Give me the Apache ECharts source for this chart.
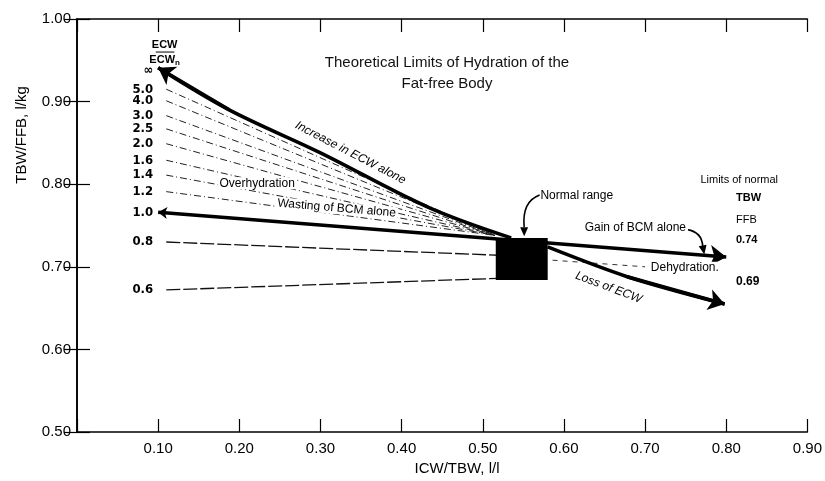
<!DOCTYPE html>
<html><head><meta charset="utf-8">
<script src="https://cdn.jsdelivr.net/npm/echarts@6/dist/echarts.min.js"></script>
<style>html,body{margin:0;padding:0;background:#fff}#c{width:825px;height:481px}</style>
</head><body><div id="c"></div>
<script>
// ---- data ----
const ratioLabels = ['∞','5.0','4.0','3.0','2.5','2.0','1.6','1.4','1.2','1.0','0.8','0.6'];
const ratioLabelY = [0.937,0.915,0.901,0.883,0.867,0.849,0.829,0.811,0.791,0.765,0.730,0.672];

const thinNames  = ['5.0','4.0','3.0','2.5','2.0','1.6','1.4','1.2'];
const thinStartX = [0.11,0.11,0.11,0.11,0.11,0.11,0.11,0.11];
const thinStartY = [0.915,0.901,0.883,0.867,0.849,0.829,0.811,0.791];
const thinEndX   = [0.515,0.515,0.515,0.515,0.515,0.515,0.515,0.515];
const thinEndY   = [0.738,0.738,0.738,0.738,0.738,0.738,0.738,0.738];

const lowNames  = ['0.8','0.6'];
const lowStartX = [0.11,0.11];
const lowStartY = [0.730,0.672];
const lowEndX   = [0.519,0.519];
const lowEndY   = [0.714,0.686];

const ecwX = [0.10,0.1875,0.30,0.433,0.535];
const ecwY = [0.941,0.890,0.838,0.772,0.735];

const lossX = [0.58,0.678,0.798];
const lossY = [0.724,0.688,0.655];

const bcmX = [0.10,0.80];
const bcmY = [0.766,0.712];

const normalX = [0.516,0.580];
const normalY = [0.684,0.735];

const dehydX = [0.586,0.70];
const dehydY = [0.708,0.700];

// ---- chart ----
const FONT = "'Liberation Sans', Arial, sans-serif";
const chart = echarts.init(document.getElementById('c'));

const seg = (xs, ys) => xs.map((x, i) => [x, ys[i]]);
const segs = (x1, y1, x2, y2) => x1.map((_, i) => ({coords: [[x1[i], y1[i]], [x2[i], y2[i]]]}));

const axisCommon = {
  type: 'value',
  axisLine: {show: true, lineStyle: {color: '#000', width: 1.6}},
  axisTick: {show: true, inside: true, length: 13, lineStyle: {color: '#000', width: 1.2}},
  splitLine: {show: false}
};

const option = {
  animation: false,
  backgroundColor: '#fff',
  title: {
    text: 'Theoretical Limits of Hydration of the\nFat-free Body',
    left: 442, top: 47, textAlign: 'center',
    textStyle: {fontSize: 15, fontWeight: 'normal', color: '#111', lineHeight: 21, fontFamily: FONT}
  },
  grid: {left: 77, top: 19, width: 734, height: 413},
  xAxis: [
    Object.assign({}, axisCommon, {min: 0, max: 0.9, interval: 0.1, position: 'bottom',
      axisLabel: {formatter: v => v < 0.05 ? '' : v.toFixed(2), fontSize: 15, color: '#000', margin: 9, fontFamily: FONT}}),
    Object.assign({}, axisCommon, {min: 0, max: 0.9, interval: 0.1, position: 'top', axisLabel: {show: false}})
  ],
  yAxis: [
    Object.assign({}, axisCommon, {min: 0.5, max: 1.0, interval: 0.1, position: 'left',
      axisLabel: {formatter: v => v.toFixed(2), fontSize: 15, color: '#000', margin: 6, fontFamily: FONT}}),
    Object.assign({}, axisCommon, {min: 0.5, max: 1.0, interval: 0.1, position: 'right', axisLabel: {show: false}})
  ],
  series: [
    {type: 'lines', coordinateSystem: 'cartesian2d', polyline: false, silent: true,
     data: segs(thinStartX, thinStartY, thinEndX, thinEndY),
     lineStyle: {color: '#222', width: 1, type: [7, 3, 1, 3], opacity: 1}, symbol: 'none'},
    {type: 'lines', coordinateSystem: 'cartesian2d', silent: true,
     data: segs(lowStartX, lowStartY, lowEndX, lowEndY),
     lineStyle: {color: '#111', width: 1.3, type: [14, 3], opacity: 1}, symbol: 'none'},
    {type: 'lines', coordinateSystem: 'cartesian2d', silent: true,
     data: [{coords: seg(dehydX, dehydY)}],
     lineStyle: {color: '#333', width: 1, type: [5, 5], opacity: 1}, symbol: 'none'},
    {type: 'line', data: seg(ecwX, ecwY), symbol: 'none', silent: true, smooth: 0.35,
     lineStyle: {color: '#000', width: 3.5}},
    {type: 'lines', coordinateSystem: 'cartesian2d', silent: true,
     data: [{coords: [[ecwX[1], ecwY[1]], [ecwX[0], ecwY[0]]]}],
     lineStyle: {color: '#000', width: 3.5, opacity: 1}, symbol: ['none', 'arrow'], symbolSize: [9, 16]},
    {type: 'line', data: seg(lossX, lossY), symbol: 'none', silent: true, smooth: 0.3,
     lineStyle: {color: '#000', width: 3.5}},
    {type: 'lines', coordinateSystem: 'cartesian2d', silent: true,
     data: [{coords: [[lossX[1], lossY[1]], [lossX[2], lossY[2]]]}],
     lineStyle: {color: '#000', width: 3.5, opacity: 1}, symbol: ['none', 'arrow'], symbolSize: [9, 16]},
    {type: 'lines', coordinateSystem: 'cartesian2d', silent: true,
     data: [{coords: seg(bcmX, bcmY)}],
     lineStyle: {color: '#000', width: 3.5, opacity: 1}, symbol: ['arrow', 'arrow'], symbolSize: [9, 16]},
    {type: 'custom', silent: true,
     data: [[normalX[0], normalY[1], normalX[1], normalY[0]]],
     renderItem: (params, api) => {
       const p1 = api.coord([api.value(0), api.value(1)]);
       const p2 = api.coord([api.value(2), api.value(3)]);
       return {type: 'rect', shape: {x: p1[0], y: p1[1], width: p2[0] - p1[0], height: p2[1] - p1[1]}, style: {fill: '#000'}};
     }}
  ]
};
chart.setOption(option);

// ---- annotations (positioned in data space) ----
const P = (x, y) => chart.convertToPixel({xAxisIndex: 0, yAxisIndex: 0}, [x, y]);
const g = [];
function txt(text, x, y, opts) {
  const p = P(x, y);
  const o = opts || {};
  g.push({type: 'text', x: p[0], y: p[1], rotation: o.rot || 0, z: 100,
    style: {text: text, fontSize: o.size || 12, fontFamily: o.family || FONT, fontStyle: o.italic ? 'italic' : 'normal',
      fontWeight: o.bold ? 'bold' : 'normal', fill: '#000', align: o.align || 'center', verticalAlign: 'middle',
      backgroundColor: o.bg || null, padding: o.bg ? [0, 2] : 0}});
}
// ratio labels
ratioLabels.forEach((t, i) => txt(t, 0.0938, ratioLabelY[i], {align: 'right', size: 13, bold: true,
  family: "'Liberation Sans Narrow', 'DejaVu Sans Condensed', sans-serif"}));
// header ECW / ECWn
txt('ECW', 0.108, 0.969, {size: 11, bold: true});
{
  const a = P(0.097, 0.960), b = P(0.120, 0.960);
  g.push({type: 'line', shape: {x1: a[0], y1: a[1], x2: b[0], y2: b[1]}, style: {stroke: '#000', lineWidth: 1}});
}
{
  const p = P(0.108, 0.950);
  g.push({type: 'text', x: p[0], y: p[1], style: {text: '{a|ECW}{b|n}', align: 'center', verticalAlign: 'middle',
    rich: {a: {fontSize: 11, fontWeight: 'bold', fontFamily: FONT, fill: '#000'},
           b: {fontSize: 8, fontWeight: 'bold', fontFamily: FONT, fill: '#000', padding: [4, 0, 0, 0]}}}});
}
txt('Increase in ECW alone', 0.337, 0.838, {italic: true, rot: -0.478, size: 12});
txt('Overhydration', 0.222, 0.801, {size: 12, bg: '#fff'});
txt('Wasting of BCM alone', 0.320, 0.771, {size: 12, rot: -0.085, bg: '#fff'});
txt('Normal range', 0.571, 0.786, {size: 12, align: 'left'});
txt('Gain of BCM alone', 0.688, 0.747, {size: 12, bg: '#fff'});
txt('Dehydration.', 0.749, 0.699, {size: 12, bg: '#fff'});
txt('Loss of ECW', 0.655, 0.675, {italic: true, rot: -0.36, size: 12});
txt('Limits of normal', 0.816, 0.805, {size: 11});
txt('TBW', 0.812, 0.783, {size: 11, align: 'left', bold: true});
txt('FFB', 0.812, 0.757, {size: 11, align: 'left'});
txt('0.74', 0.812, 0.732, {size: 11, align: 'left', bold: true});
txt('0.69', 0.812, 0.682, {size: 12, align: 'left', bold: true});
// curved pointer arrows
function curvedArrow(s, c, e, tip) {
  const ps = P(s[0], s[1]), pc = P(c[0], c[1]), pe = P(e[0], e[1]), pt = P(tip[0], tip[1]);
  g.push({type: 'bezierCurve', shape: {x1: ps[0], y1: ps[1], cpx1: pc[0], cpy1: pc[1], x2: pe[0], y2: pe[1]},
    style: {stroke: '#000', lineWidth: 1.6, fill: null}});
  const dx = pt[0] - pe[0], dy = pt[1] - pe[1], L = Math.hypot(dx, dy) || 1;
  const ux = dx / L, uy = dy / L, len = 9, w = 4;
  const bx = pt[0] - ux * len, by = pt[1] - uy * len;
  g.push({type: 'polygon', shape: {points: [[pt[0], pt[1]], [bx - uy * w, by + ux * w], [bx + uy * w, by - ux * w]]},
    style: {fill: '#000'}});
}
curvedArrow([0.570, 0.787], [0.548, 0.779], [0.551, 0.748], [0.551, 0.737]);
curvedArrow([0.752, 0.745], [0.770, 0.742], [0.771, 0.725], [0.773, 0.715]);
// axis names
g.push({type: 'text', x: 22, y: 135, rotation: Math.PI / 2,
  style: {text: 'TBW/FFB, l/kg', fontSize: 15, fontFamily: FONT, fill: '#000', align: 'center', verticalAlign: 'middle'}});
g.push({type: 'text', x: 457, y: 469,
  style: {text: 'ICW/TBW, l/l', fontSize: 15, fontFamily: FONT, fill: '#000', align: 'center', verticalAlign: 'middle'}});
chart.setOption({graphic: g});
</script>
</body></html>
